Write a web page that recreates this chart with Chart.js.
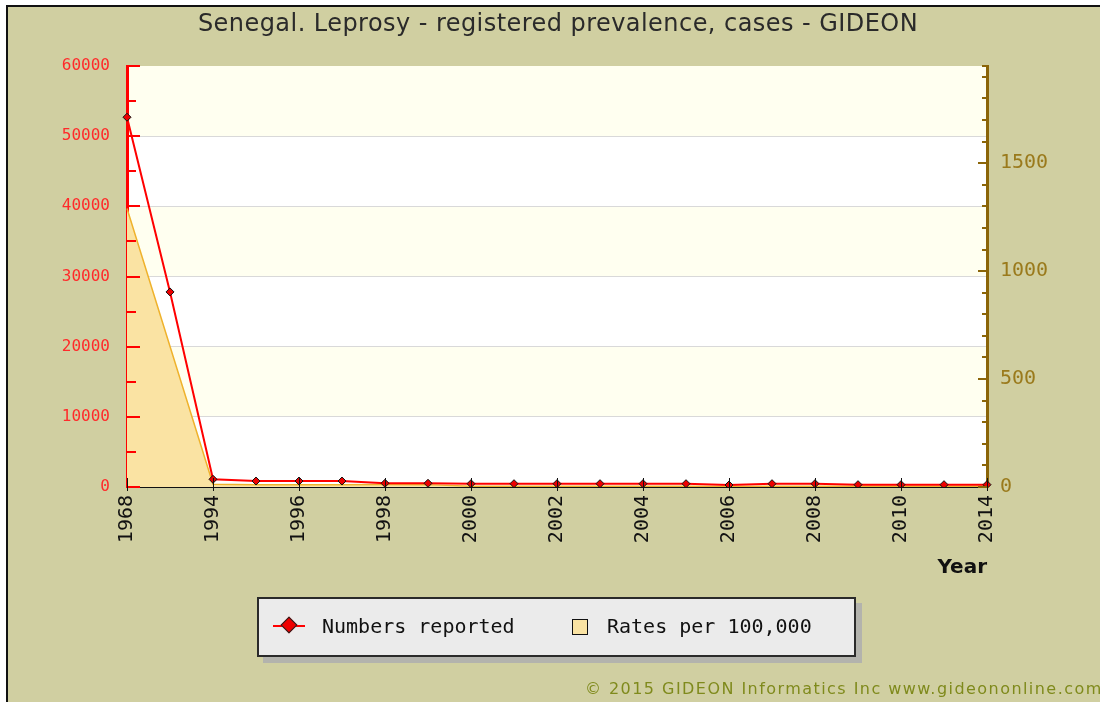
<!DOCTYPE html>
<html>
<head>
<meta charset="utf-8">
<script src="https://cdn.jsdelivr.net/npm/chart.js@4.4.0/dist/chart.umd.min.js"></script>
<style>
  html, body { margin: 0; background: #ffffff; overflow: hidden; width: 1100px; height: 702px; }
  #frame {
    position: absolute; left: 6px; top: 5px; width: 1092px; height: 695px;
    background: #d0cfa1; border-left: 2px solid #111; border-top: 2px solid #111;
  }
  #cvs { position: absolute; left: 0; top: 0; }
  #title {
    position: absolute; left: 0; top: 9px; width: 1116px; text-align: center;
    font-family: "DejaVu Sans", sans-serif; font-size: 24px;
    letter-spacing: 0.45px; color: #2a2a2a; white-space: nowrap;
  }
  #legend {
    position: absolute; left: 257px; top: 597px; width: 595px; height: 56px;
    background: #ebebeb; border: 2px solid #2a2a2a; box-shadow: 6px 6px 0 #b3b3ad;
    font-family: "DejaVu Sans Mono", monospace; font-size: 20px; color: #111;
  }
  .lg-txt { position: absolute; top: 15px; }
  #lg-line { position: absolute; left: 14px; top: 26px; width: 32px; height: 2px; background: #ff0000; }
  #lg-dia {
    position: absolute; left: 24px; top: 20px; width: 10px; height: 10px;
    background: #ee0000; border: 1px solid #222; transform: rotate(45deg);
  }
  #lg-sq {
    position: absolute; left: 313px; top: 20px; width: 14px; height: 14px;
    background: #fae3a3; border: 1px solid #111;
  }
  #footer {
    position: absolute; left: 585px; top: 679px; white-space: nowrap;
    font-family: "DejaVu Sans", sans-serif; font-size: 16px; letter-spacing: 1.45px;
    color: #7f8a1c;
  }
</style>
</head>
<body>
<div id="frame"></div>
<canvas id="cvs" width="1100" height="702"></canvas>
<div id="title">Senegal. Leprosy - registered prevalence, cases - GIDEON</div>
<div id="legend">
  <div id="lg-line"></div><div id="lg-dia"></div>
  <div class="lg-txt" style="left:63px">Numbers reported</div>
  <div id="lg-sq"></div>
  <div class="lg-txt" style="left:348px">Rates per 100,000</div>
</div>
<div id="footer">© 2015 GIDEON Informatics Inc www.gideononline.com</div>
<script>
//-------------------------------------------------------------------
// data
//-------------------------------------------------------------------
const years = ['1968', '1980', '1994', '1995', '1996', '1997', '1998', '1999', '2000', '2001',
               '2002', '2003', '2004', '2005', '2006', '2007', '2008', '2009', '2010', '2012', '2014'];

const numbersReported = [52700, 27800, 1100, 850, 850, 850, 530, 530, 470, 470,
                         470, 470, 470, 470, 285, 470, 470, 330, 330, 330, 330];

const ratesPer100k = [1290, null, 13, 10, 10, 10, 12, 11, 4, 4,
                      4, 4, 4, 4, 2, 4, 4, 3, 3, 3, 3];

const leftMax = 60000;
const rightMax = 1950;

//-------------------------------------------------------------------
// plot decorations: bands and inward tick marks
//-------------------------------------------------------------------
const decorations = {
  id: 'decorations',
  beforeDraw(chart) {
    const ctx = chart.ctx;
    const area = chart.chartArea;
    const y = chart.scales.y;
    ctx.save();
    for (let k = 0; k < 6; k++) {
      const top = y.getPixelForValue((k + 1) * 10000);
      const bot = y.getPixelForValue(k * 10000);
      ctx.fillStyle = (k % 2 === 1) ? '#fffff0' : '#ffffff';
      ctx.fillRect(area.left, top, area.right - area.left, bot - top);
    }
    ctx.restore();
  },
  afterDraw(chart) {
    const ctx = chart.ctx;
    const area = chart.chartArea;
    const y = chart.scales.y;
    const y1 = chart.scales.y1;
    const x = chart.scales.x;
    ctx.save();
    ctx.lineWidth = 2;

    // left axis ticks
    ctx.strokeStyle = '#ff0000';
    for (let v = 0; v <= leftMax; v += 5000) {
      const py = Math.round(y.getPixelForValue(v));
      const len = (v % 10000 === 0) ? 13 : 9;
      ctx.beginPath();
      ctx.moveTo(area.left, py);
      ctx.lineTo(area.left + len, py);
      ctx.stroke();
    }

    // right axis ticks
    ctx.strokeStyle = '#8b6508';
    for (let v = 0; v <= rightMax; v += 100) {
      const py = Math.round(y1.getPixelForValue(v));
      const len = (v % 500 === 0) ? 9 : 5;
      ctx.beginPath();
      ctx.moveTo(area.right, py);
      ctx.lineTo(area.right - len, py);
      ctx.stroke();
    }
    ctx.beginPath();
    ctx.moveTo(area.right, area.top);
    ctx.lineTo(area.right - 5, area.top);
    ctx.stroke();

    // x ticks at labelled years
    ctx.strokeStyle = '#111111';
    ctx.lineWidth = 1;
    for (let i = 0; i < years.length; i += 2) {
      const px = Math.round(x.getPixelForValue(i)) + 0.5;
      ctx.beginPath();
      ctx.moveTo(px, area.bottom - 9);
      ctx.lineTo(px, area.bottom + 4);
      ctx.stroke();
    }
    ctx.restore();
  }
};

//-------------------------------------------------------------------
// chart
//-------------------------------------------------------------------
const ctx = document.getElementById('cvs').getContext('2d');

new Chart(ctx, {
  type: 'line',
  data: {
    labels: years,
    datasets: [
      {
        label: 'Numbers reported',
        data: numbersReported,
        yAxisID: 'y',
        borderColor: '#ff0000',
        borderWidth: 2,
        pointStyle: 'rectRot',
        pointRadius: 4,
        pointBackgroundColor: '#ee0000',
        pointBorderColor: '#111111',
        pointBorderWidth: 1,
        tension: 0,
        order: 0
      },
      {
        label: 'Rates per 100,000',
        data: ratesPer100k,
        yAxisID: 'y1',
        borderColor: '#efb22c',
        borderWidth: 1.5,
        backgroundColor: '#fae3a3',
        fill: 'origin',
        pointRadius: 0,
        spanGaps: true,
        tension: 0,
        order: 1
      }
    ]
  },
  options: {
    responsive: false,
    animation: false,
    layout: { padding: { top: 66, bottom: 115, left: 0, right: 0 } },
    plugins: {
      legend: { display: false },
      title: { display: false },
      tooltip: { enabled: false }
    },
    scales: {
      x: {
        type: 'category',
        offset: false,
        grid: { display: false, drawTicks: false },
        border: { display: true, color: '#111111', width: 2 },
        ticks: {
          autoSkip: false,
          minRotation: 90,
          maxRotation: 90,
          padding: 8,
          color: '#111111',
          font: { family: 'DejaVu Sans Mono', size: 20 },
          callback: function (value, index) {
            return index % 2 === 0 ? years[index] : '';
          }
        },
        title: {
          display: true,
          text: 'Year',
          align: 'end',
          color: '#111111',
          font: { family: 'DejaVu Sans', size: 20, weight: 'bold' },
          padding: { top: 0, bottom: 7 }
        },
        afterFit: function (scale) { scale.height = 100; }
      },
      y: {
        position: 'left',
        min: 0,
        max: leftMax,
        grid: {
          drawTicks: false,
          lineWidth: 1,
          color: function (c) {
            const v = c.tick.value;
            return (v > 0 && v < leftMax && v % 10000 === 0) ? '#d9d9d9' : 'rgba(0,0,0,0)';
          }
        },
        border: { display: true, color: '#ff0000', width: 3 },
        ticks: {
          autoSkip: false,
          stepSize: 5000,
          padding: 17,
          color: '#ff2a2a',
          font: { family: 'DejaVu Sans Mono', size: 16 },
          callback: function (v) { return v % 10000 === 0 ? String(v) : ''; }
        },
        afterFit: function (scale) { scale.width = 127; }
      },
      y1: {
        position: 'right',
        min: 0,
        max: rightMax,
        grid: { display: false, drawTicks: false },
        border: { display: true, color: '#8b6508', width: 3 },
        ticks: {
          autoSkip: false,
          stepSize: 100,
          padding: 13,
          color: '#9a7a1c',
          font: { family: 'DejaVu Sans Mono', size: 20 },
          callback: function (v) { return v % 500 === 0 ? String(v) : ''; }
        },
        afterFit: function (scale) { scale.width = 113; }
      }
    }
  },
  plugins: [decorations]
});
</script>
</body>
</html>
